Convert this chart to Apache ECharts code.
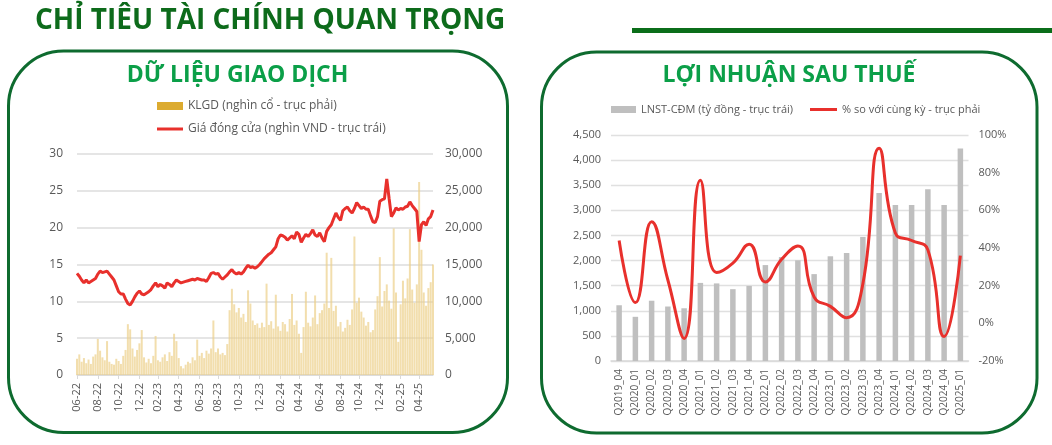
<!DOCTYPE html>
<html><head><meta charset="utf-8">
<script src="https://cdn.jsdelivr.net/npm/echarts@6/dist/echarts.min.js"></script>
<style>html,body{margin:0;padding:0;background:#fff}#c{width:1052px;height:445px}</style>
</head><body><div id="c"></div>
<script>
// ---- Left chart: weekly closing price (nghìn VND) and trading volume (nghìn cổ) ----
const firstWeek = '2022-06-01';
const closePrice = [
  13.8,13.4,12.9,12.5,12.9,12.5,12.7,12.9,13.1,13.7,
  14.1,13.9,14.0,14.1,13.7,13.3,12.9,12.1,11.3,11.0,
  11.0,10.3,9.7,9.5,10.0,10.6,11.1,11.4,11.0,10.9,
  11.1,11.3,11.6,12.1,12.5,12.0,12.3,12.1,11.8,12.5,
  12.3,12.0,12.5,12.9,12.7,12.5,12.6,12.7,12.8,12.9,
  13.0,12.9,13.1,13.0,12.9,12.9,12.7,13.2,13.8,13.9,
  13.7,13.8,13.3,13.0,13.3,13.6,14.0,14.3,13.9,13.7,
  13.9,13.7,14.0,14.5,14.9,14.6,14.7,14.5,14.7,15.0,
  15.4,15.8,16.1,16.4,16.6,17.0,17.4,18.5,19.0,18.9,
  18.7,18.3,18.6,18.9,18.5,19.4,19.1,18.0,18.6,19.1,
  18.8,19.2,19.7,19.0,18.8,19.3,18.6,18.1,19.5,20.0,
  20.4,21.2,22.0,21.4,21.0,22.3,22.6,22.8,22.3,22.0,
  22.6,23.4,23.0,22.6,22.8,22.5,22.5,21.6,20.8,20.7,
  21.5,23.6,23.8,23.9,26.6,24.0,21.5,22.0,22.7,22.4,
  22.6,22.5,22.8,22.9,23.5,23.0,22.6,22.2,18.1,20.4,
  20.8,20.3,21.2,21.5,22.4
];
const tradeVolume = [
  2200,2800,1800,2300,1600,2100,1500,2500,2800,4900,
  3300,2400,2000,4600,1800,1500,1400,2200,1900,1500,
  2600,3400,6900,6200,3600,2500,3400,4300,6100,2400,
  1700,2200,1600,2600,5300,2000,1800,2400,2800,1900,
  3100,2600,5600,4600,2300,1200,900,1400,1800,1600,
  2400,2000,4800,2600,3000,2300,3300,2900,3600,7400,
  3100,3600,2800,3000,2700,4200,8800,11700,9600,8500,
  9100,7800,8300,7200,11500,9700,7400,6800,7000,6400,
  7100,6500,12400,6800,7300,6300,10900,6600,6000,7200,
  6900,5900,7600,11000,6800,7400,5600,3000,6500,11300,
  7100,6600,7800,10800,6900,8400,8800,9700,16600,9100,
  15900,8700,9400,6600,7200,5900,6400,7500,6800,8900,
  18800,9800,10500,8600,7800,6700,7200,5800,6100,8900,
  10700,16000,9300,11400,12300,10100,9000,19900,11200,4500,
  9600,12800,10400,13100,19800,11600,9800,12300,26200,17000,
  11200,9400,11800,12600,15000
];
// ---- Right chart: quarterly profit (tỷ đồng) and YoY growth (%) ----
const quarters = ['Q2019_04','Q2020_01','Q2020_02','Q2020_03','Q2020_04','Q2021_01','Q2021_02','Q2021_03','Q2021_04',
  'Q2022_01','Q2022_02','Q2022_03','Q2022_04','Q2023_01','Q2023_02','Q2023_03','Q2023_04','Q2024_01','Q2024_02','Q2024_03','Q2024_04','Q2025_01'];
const netProfit = [1110,880,1200,1085,1050,1555,1545,1430,1495,1910,2070,2005,1730,2085,2150,2470,3345,3105,3105,3420,3105,4230];
const profitYoY = [44,11,54,23,-8,76,27,32,42,22,34,41,14,9,3,21,93,48,44,39,-7,36];

const names = {
  vol: 'KLGD (nghìn cổ - trục phải)',
  price: 'Giá đóng cửa (nghìn VND - trục trái)',
  profit: 'LNST-CĐM (tỷ đồng - trục trái)',
  yoy: '% so với cùng kỳ - trục phải'
};

// weekly category labels (dates)
const weeks = [];
(function(){
  const d0 = new Date(firstWeek + 'T00:00:00Z').getTime();
  for (let i = 0; i < closePrice.length; i++) {
    weeks.push(new Date(d0 + i * 7 * 86400000).toISOString().slice(0, 10));
  }
})();
function isLabelWeek(i) {
  if (i === 0) return true;
  const m = +weeks[i].slice(5, 7), pm = +weeks[i - 1].slice(5, 7);
  return m !== pm && m % 2 === 0;
}

const FF = "'Open Sans', sans-serif";
const TXT = '#595959';
const RED = '#e8302c';

const chart = echarts.init(document.getElementById('c'), null, {renderer: 'canvas'});
chart.setOption({
  animation: false,
  backgroundColor: '#ffffff',
  textStyle: {fontFamily: FF},
  graphic: [
    {type: 'text', x: 35, y: 21, style: {text: 'CHỈ TIÊU TÀI CHÍNH QUAN TRỌNG', font: "bold 28px 'Open Sans'", fill: '#0d6b1b', textVerticalAlign: 'middle'}},
    {type: 'rect', shape: {x: 632, y: 28, width: 420, height: 5}, style: {fill: '#0b6e1a'}},
    {type: 'rect', shape: {x: 8.5, y: 51, width: 499, height: 381.5, r: 55}, style: {fill: 'none', stroke: '#0e6b2f', lineWidth: 3}},
    {type: 'rect', shape: {x: 541.5, y: 52, width: 495.5, height: 381, r: 55}, style: {fill: 'none', stroke: '#0e6b2f', lineWidth: 3}},
    {type: 'text', x: 237.5, y: 75, style: {text: 'DỮ LIỆU GIAO DỊCH', font: "bold 23px 'Open Sans'", fill: '#0b9f48', textAlign: 'center', textVerticalAlign: 'middle'}},
    {type: 'text', x: 789, y: 75, style: {text: 'LỢI NHUẬN SAU THUẾ', font: "bold 23px 'Open Sans'", fill: '#0b9f48', textAlign: 'center', textVerticalAlign: 'middle'}}
  ],
  legend: [
    {data: [{name: names.vol, icon: 'rect', itemStyle: {color: '#dcab30', opacity: 1}}], left: 157, top: 100, padding: 0,
      itemWidth: 26, itemHeight: 8, selectedMode: false, textStyle: {color: TXT, fontSize: 12, fontFamily: FF}},
    {data: [{name: names.price, icon: 'rect'}], left: 157, top: 123, padding: 0,
      itemWidth: 26, itemHeight: 3, selectedMode: false, textStyle: {color: TXT, fontSize: 12, fontFamily: FF}},
    {data: [{name: names.profit, icon: 'rect'}], left: 611, top: 104, padding: 0,
      itemWidth: 25, itemHeight: 7, selectedMode: false, textStyle: {color: TXT, fontSize: 11, fontFamily: FF}},
    {data: [{name: names.yoy, icon: 'rect'}], left: 810, top: 104, padding: 0,
      itemWidth: 27, itemHeight: 3, selectedMode: false, textStyle: {color: TXT, fontSize: 11, fontFamily: FF}}
  ],
  grid: [
    {left: 77, top: 154, width: 356, height: 221, containLabel: false},
    {left: 611, top: 135, width: 357.5, height: 226, containLabel: false}
  ],
  xAxis: [
    {type: 'category', gridIndex: 0, data: weeks, boundaryGap: false,
      axisLine: {lineStyle: {color: '#d9d9d9', width: 1.5}},
      axisTick: {show: true, interval: isLabelWeek, length: 4, lineStyle: {color: '#d9d9d9'}},
      axisLabel: {interval: isLabelWeek, rotate: 90, margin: 8, color: TXT, fontSize: 11, fontFamily: FF,
        formatter: v => v.slice(5, 7) + '-' + v.slice(2, 4)},
      splitLine: {show: false}},
    {type: 'category', gridIndex: 1, data: quarters, boundaryGap: true,
      axisLine: {lineStyle: {color: '#d9d9d9', width: 1.5}},
      axisTick: {show: false},
      axisLabel: {interval: 0, rotate: 90, margin: 8, color: TXT, fontSize: 10, fontFamily: FF},
      splitLine: {show: false}}
  ],
  yAxis: [
    {type: 'value', gridIndex: 0, min: 0, max: 30, interval: 5,
      axisLine: {show: false}, axisTick: {show: false},
      axisLabel: {color: TXT, fontSize: 12, margin: 14, fontFamily: FF},
      splitLine: {lineStyle: {color: '#dcdcdc', width: 1.5}}},
    {type: 'value', gridIndex: 0, position: 'right', min: 0, max: 30000, interval: 5000,
      axisLine: {show: false}, axisTick: {show: false},
      axisLabel: {color: TXT, fontSize: 12, margin: 12, fontFamily: FF},
      splitLine: {show: false}},
    {type: 'value', gridIndex: 1, min: 0, max: 4500, interval: 500,
      axisLine: {show: false}, axisTick: {show: false},
      axisLabel: {color: TXT, fontSize: 11, margin: 10, fontFamily: FF},
      splitLine: {lineStyle: {color: '#e0e0e0', width: 1.3}}},
    {type: 'value', gridIndex: 1, position: 'right', min: -20, max: 100, interval: 20,
      axisLine: {show: false}, axisTick: {show: false},
      axisLabel: {color: TXT, fontSize: 11, margin: 10, fontFamily: FF, formatter: '{value}%'},
      splitLine: {show: false}}
  ],
  series: [
    {name: names.vol, type: 'bar', xAxisIndex: 0, yAxisIndex: 1, data: tradeVolume,
      barWidth: 2, itemStyle: {color: '#ecd08a', opacity: 0.7}, z: 2},
    {name: names.price, type: 'line', xAxisIndex: 0, yAxisIndex: 0, data: closePrice,
      symbol: 'none', showSymbol: false, lineStyle: {color: RED, width: 3}, itemStyle: {color: RED}, z: 3},
    {name: names.profit, type: 'bar', xAxisIndex: 1, yAxisIndex: 2, data: netProfit,
      barWidth: 5.5, itemStyle: {color: '#bfbfbf'}, z: 2},
    {name: names.yoy, type: 'line', xAxisIndex: 1, yAxisIndex: 3, data: profitYoY, smooth: 0.5,
      symbol: 'none', showSymbol: false, lineStyle: {color: RED, width: 3}, itemStyle: {color: RED}, z: 3}
  ]
});
</script>
</body></html>
